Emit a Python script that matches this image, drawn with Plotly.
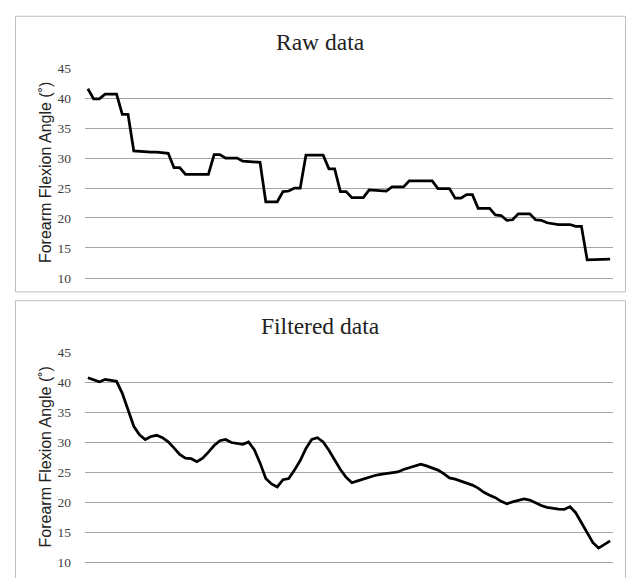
import plotly.graph_objects as go

# ---- data ----
samples = list(range(1, 93))
raw_angle = [41.6, 39.9, 39.9, 40.7, 40.7, 40.7, 37.3, 37.3, 31.2, 31.1,
             31.0, 31.0, 31.0, 30.9, 30.8, 28.4, 28.4, 27.3, 27.3, 27.3,
             27.3, 27.3, 30.6, 30.6, 30.0, 30.0, 30.0, 29.5, 29.4, 29.3,
             29.3, 22.7, 22.7, 22.7, 24.4, 24.5, 25.0, 25.0, 30.5, 30.5,
             30.5, 30.5, 28.2, 28.2, 24.4, 24.4, 23.4, 23.4, 23.4, 24.7,
             24.6, 24.5, 24.5, 25.2, 25.2, 25.2, 26.2, 26.2, 26.2, 26.2,
             26.2, 24.9, 24.9, 24.9, 23.3, 23.3, 23.9, 23.9, 21.6, 21.6,
             21.6, 20.5, 20.4, 19.6, 19.7, 20.7, 20.7, 20.7, 19.7, 19.6,
             19.2, 19.0, 18.9, 18.9, 18.9, 18.6, 18.6, 13.0, 13.0, 13.0,
             13.1, 13.1]
filtered_angle = [40.8, 40.4, 40.1, 40.5, 40.4, 40.2, 38.2, 35.5, 32.7, 31.3,
                  30.5, 31.0, 31.2, 30.8, 30.1, 29.1, 28.0, 27.4, 27.3, 26.8,
                  27.4, 28.4, 29.5, 30.3, 30.5, 30.0, 29.8, 29.7, 30.1, 28.8,
                  26.6, 24.0, 23.1, 22.6, 23.8, 24.0, 25.4, 27.0, 29.0, 30.5,
                  30.8, 30.1, 28.7, 27.1, 25.5, 24.2, 23.3, 23.6, 23.9, 24.3,
                  24.5, 24.7, 24.8, 24.9, 25.1, 25.5, 25.8, 26.1, 26.4, 26.1,
                  25.8, 25.4, 24.8, 24.1, 23.9, 23.6, 23.3, 22.9, 22.4, 21.7,
                  21.2, 20.8, 20.2, 19.8, 20.1, 20.4, 20.6, 20.4, 19.9, 19.5,
                  19.2, 19.0, 18.9, 18.85, 19.3, 18.3, 16.6, 14.8, 13.3, 12.4,
                  13.0, 13.6]
y_ticks = [10, 15, 20, 25, 30, 35, 40, 45]
titles = ["Raw data", "Filtered data"]
y_title = "Forearm Flexion Angle (˚)"

W, H = 627, 578
def px(x):
    return x / W
def py(y):
    return 1 - y / H

fig = go.Figure()
fig.add_trace(go.Scatter(x=samples, y=raw_angle, mode="lines",
                         line=dict(color="#000000", width=2.75),
                         xaxis="x", yaxis="y", showlegend=False))
fig.add_trace(go.Scatter(x=samples, y=filtered_angle, mode="lines",
                         line=dict(color="#000000", width=2.75),
                         xaxis="x2", yaxis="y2", showlegend=False))

grid_col = "#A6A6A6"
tick_font = dict(family="Liberation Serif", size=13.5, color="#404040")
xr = [0.5, len(samples) + 0.5]

common_x = dict(range=xr, showticklabels=False, showgrid=False, zeroline=False,
                showline=True, linecolor=grid_col, linewidth=1, ticks="")
common_y = dict(range=[10, 45], tickvals=y_ticks, showgrid=True, gridcolor=grid_col,
                gridwidth=1, zeroline=False, showline=False, tickfont=tick_font,
                ticks="", ticklabelstandoff=13)

plot_l, plot_r = 85, 613
fig.update_layout(
    width=W, height=H,
    margin=dict(l=0, r=0, t=0, b=0),
    paper_bgcolor="white", plot_bgcolor="white",
    xaxis=dict(domain=[px(plot_l), px(plot_r)], anchor="y", **common_x),
    yaxis=dict(domain=[py(278), py(63)], anchor="x", **common_y),
    xaxis2=dict(domain=[px(plot_l), px(plot_r)], anchor="y2", **common_x),
    yaxis2=dict(domain=[py(570.3), py(354.7)], anchor="x2", **common_y),
)

# chart borders
border = dict(color="#BFBFBF", width=1)
fig.add_shape(type="rect", xref="paper", yref="paper",
              x0=px(15.5), x1=px(625.5), y0=py(292.5), y1=py(9.5), line=border)
fig.add_shape(type="rect", xref="paper", yref="paper",
              x0=px(15.5), x1=px(625.5), y0=py(600), y1=py(301.5), line=border)

# chart titles
for t, yc in zip(titles, [35.5, 328]):
    fig.add_annotation(text=t, xref="paper", yref="paper", x=px(320.5), y=py(yc),
                       xanchor="center", yanchor="middle", showarrow=False,
                       font=dict(family="Liberation Serif", size=23.5, color="#222222"))
# y axis titles
for yc in [170.5, 462.5]:
    fig.add_annotation(text=y_title, xref="paper", yref="paper", x=px(45), y=py(yc),
                       xanchor="center", yanchor="middle", showarrow=False, textangle=-90,
                       font=dict(family="Liberation Sans", size=16, color="#222222"))

fig.write_html("out.html", config={"displayModeBar": False},
               post_script="document.body.style.margin='0px';")
